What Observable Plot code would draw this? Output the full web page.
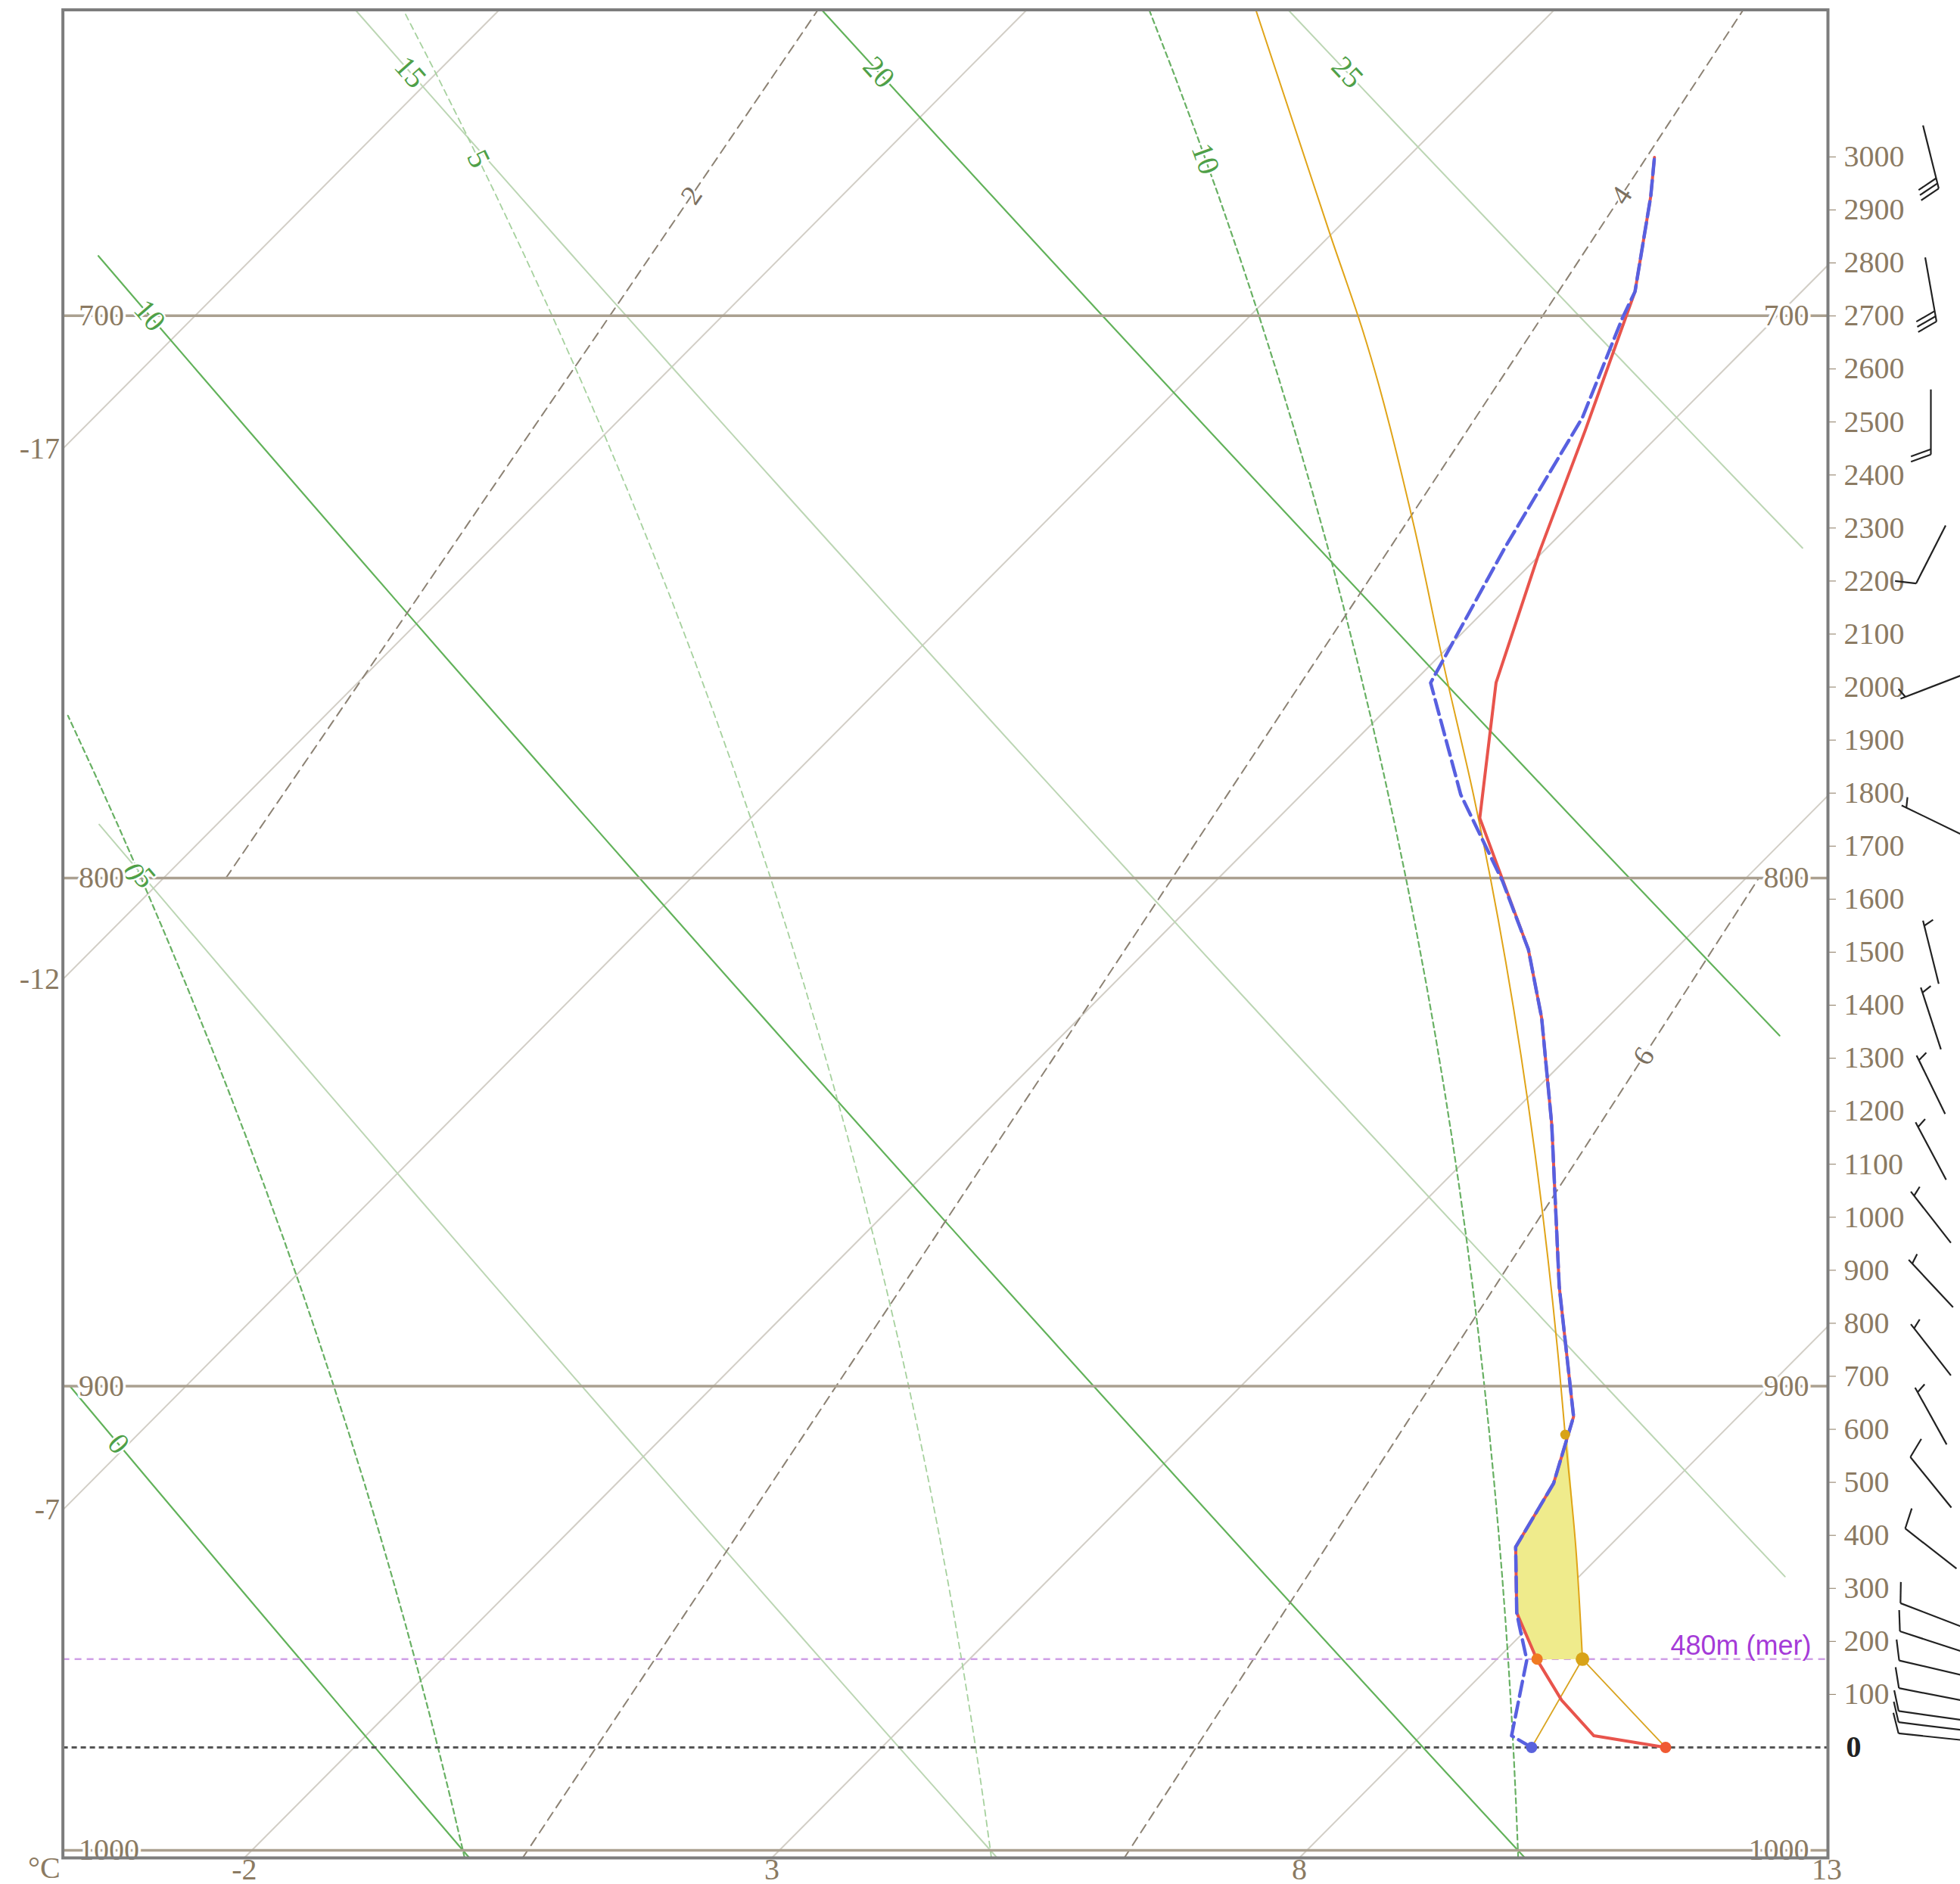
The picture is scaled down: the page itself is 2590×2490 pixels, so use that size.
<!DOCTYPE html>
<html>
<head>
<meta charset="utf-8">
<script src="https://cdn.jsdelivr.net/npm/d3@7"></script>
<script src="https://cdn.jsdelivr.net/npm/@observablehq/plot@0.6"></script>
<style>
  html, body { margin: 0; padding: 0; background: #ffffff; }
  svg { overflow: visible; display: block; }
</style>
</head>
<body>
<div id="chart"></div>
<script>
// ---------------- DATA ----------------
const pressureLevels = [700, 800, 900, 1000];               // hPa lines
const isotherms = [-22, -17, -12, -7, -2, 3, 8, 13];          // °C
const leftTempLabels = [-17, -12, -7];
const bottomTempLabels = [-2, 3, 8, 13];
const dryAdiabats = [0, 5, 10, 15, 20, 25];                   // θ °C
const dryLabelP = [912, 800, 700, 660, 660, 660];
const moistAdiabats = [0, 5, 10];                             // θw °C
const moistLabelP = [800, 674, 674];
const moistLabelShift = [[-10, -8], [0, 0], [0, 0]];
const mixingRatios = [2, 4, 6];                               // g/kg
const mixingLabelP = [680, 680, 834];
const altTicks = [100, 200, 300, 400, 500, 600, 700, 800, 900, 1000, 1100, 1200, 1300, 1400,
                  1500, 1600, 1700, 1800, 1900, 2000, 2100, 2200, 2300, 2400, 2500, 2600, 2700, 2800, 2900, 3000];

// temperature profile (height above ground m, °C)
const tempAlt = [0, 22, 89, 166, 254, 378, 498, 624, 869, 1175, 1376, 1505, 1753, 2008, 2254, 2483, 2746, 2926, 2999];
const tempC   = [10.43, 9.64, 9.00, 8.38, 7.75, 7.12, 6.88, 6.44, 5.08, 3.48, 2.38, 1.61, -0.09, -1.21, -2.03, -2.74, -3.58, -4.33, -4.66];
// dew point profile
const dewAlt = [0, 22, 165, 229, 254, 378, 498, 624, 869, 1175, 1376, 1505, 1634, 1797, 2008, 2263, 2508, 2696, 2746, 2926, 2999];
const dewC   = [9.16, 8.86, 8.29, 7.90, 7.75, 7.12, 6.88, 6.44, 5.08, 3.48, 2.38, 1.61, 0.72, -0.49, -1.83, -2.40, -2.89, -3.45, -3.58, -4.33, -4.66];
// parcel ascent above the condensation level
const parcelAlt = [166.5, 378, 590, 726, 1797, 2041, 2311, 2672, 2848, 3276];
const parcelC   = [8.81, 7.69, 6.53, 5.79, -0.37, -1.87, -3.51, -5.79, -6.97, -9.82];
// yellow area (temperature side up, parcel side down)
const capeAlt = [166, 254, 378, 498, 590, 378, 166.5];
const capeC   = [8.38, 7.75, 7.12, 6.88, 6.55, 7.69, 8.81];
const surfaceT = 10.43, surfaceTd = 9.16;
const lclAlt = 166.5, lclT = 8.81, lclTempT = 8.38;
const elAlt = 590, elT = 6.53;
const lclLabel = "480m (mer)";

// wind (height above ground m, direction of the barb tip °, speed kt)
const windAlt = [20, 40, 60, 100, 150, 200, 250, 375, 500, 625, 750, 875, 1000, 1125, 1250, 1375, 1500, 1750, 2000, 2250, 2500, 2750, 3000];
const windDir = [276, 277, 278, 281, 283, 288, 291, 308, 321, 331, 322, 317, 322, 332, 334, 342, 346, 296, 249, 207, 180, 170, 166];
const windSpd = [10, 10, 10, 10, 10, 10, 10, 10, 10, 5, 5, 5, 5, 5, 5, 5, 5, 5, 5, 10, 20, 30, 30];

// ---------------- chart geometry ----------------
const W = 2590, H = 2490;
const mL = 82.6, mR = 175, mT = 12.5, mB = 35;
const X0 = -3.72, X1 = 13.01, Y0 = -208.4, Y1 = 3277.4;
const PXC = (W - mR - mL) / (X1 - X0);     // px per °C
const PXM = (H - mB - mT) / (Y1 - Y0);     // px per m
const SKEW = 0.0049964;                    // °C per m of height (45° skew)

function zstd(p) { return 44330.8 * (1 - Math.pow(p / 1013.25, 0.190263)); }
function altOfP(p) { return (zstd(p) - 110.9) * 0.99772 - 194.1; }
function pOfAlt(a) { const z = (a + 194.1) / 0.99772 + 110.9; return 1013.25 * Math.pow(1 - z / 44330.8, 1 / 0.190263); }
function sx(T, alt) { return T + (alt - Y0) * SKEW; }

const pTop = pOfAlt(Y1), pBot = pOfAlt(Y0);

// thermodynamics
const Rd = 287.04, Cp = 1005.7, Lv = 2.501e6, EPS = 0.622, KAPPA = 0.2857;
function es(Tc) { return 6.112 * Math.exp(17.67 * Tc / (Tc + 243.5)); }
function dryT(th, p) { return (th + 273.15) * Math.pow(p / 1000, KAPPA) - 273.15; }
function moistLapse(p, T) {
  const e = es(T - 273.15);
  const rs = EPS * e / (p - e);
  return (Rd * T + Lv * rs) / (p * (Cp + Lv * Lv * rs * EPS / (Rd * T * T)));
}
function moistT(thw, p) {
  let T = thw + 273.15, pc = 1000;
  const n = Math.max(1, Math.ceil(Math.abs(p - 1000) / 2));
  const h = (p - 1000) / n;
  for (let i = 0; i < n; i++) {
    const k1 = moistLapse(pc, T);
    const k2 = moistLapse(pc + h / 2, T + h / 2 * k1);
    const k3 = moistLapse(pc + h / 2, T + h / 2 * k2);
    const k4 = moistLapse(pc + h, T + h * k3);
    T += h / 6 * (k1 + 2 * k2 + 2 * k3 + k4);
    pc += h;
  }
  return T - 273.15;
}
function mixTd(w, p) {
  const e = w * p / (622 + w);
  const l = Math.log(e / 6.112);
  return 243.5 * l / (17.67 - l);
}

const pFine = [pBot, ...d3.range(1000, 655, -10), pTop];
const pMix = [pBot, 1000, 950, 900, 850, 800, 750, 700, pTop];

function curve(fn, ps, key) {
  return ps.map(p => {
    const a = altOfP(p), x = sx(fn(p), a);
    return {x: (x >= X0 && x <= X1) ? x : NaN, y: a, z: key};
  });
}
function labelAt(fn, p, text, up) {
  const a = altOfP(p), x = sx(fn(p), a);
  const pa = up ? p + 5 : p - 5, pb = up ? p - 5 : p + 5;
  const xa = sx(fn(pa), altOfP(pa)) * PXC, ya = -altOfP(pa) * PXM;
  const xb = sx(fn(pb), altOfP(pb)) * PXC, yb = -altOfP(pb) * PXM;
  return {x, y: a, text, rotate: Math.atan2(yb - ya, xb - xa) * 180 / Math.PI};
}

const isoLines = isotherms.flatMap(t => [{x: sx(t, Y0), y: Y0, z: t}, {x: sx(t, Y1), y: Y1, z: t}]);
const dryMajor = dryAdiabats.filter(t => t % 10 === 0).flatMap(t => curve(p => dryT(t, p), pFine, t));
const dryMinor = dryAdiabats.filter(t => t % 10 !== 0).flatMap(t => curve(p => dryT(t, p), pFine, t));
const moistMajor = moistAdiabats.filter(t => t % 10 === 0).flatMap(t => curve(p => moistT(t, p), pFine, t));
const moistMinor = moistAdiabats.filter(t => t % 10 !== 0).flatMap(t => curve(p => moistT(t, p), pFine, t));
const mixLines = mixingRatios.flatMap(w => curve(p => mixTd(w, p), pMix, w));

const dryLabels = dryAdiabats.map((t, i) => labelAt(p => dryT(t, p), dryLabelP[i], String(t), false));
const moistLabels = moistAdiabats.map((t, i) => {
  const l = labelAt(p => moistT(t, p), moistLabelP[i], String(t), false);
  return {...l, x: l.x + moistLabelShift[i][0] / PXC, y: l.y - moistLabelShift[i][1] / PXM};
});
const mixLabels = mixingRatios.map((w, i) => labelAt(p => mixTd(w, p), mixingLabelP[i], String(w), true));

const tempPts = tempAlt.map((a, i) => ({x: sx(tempC[i], a), y: a}));
const dewPts = dewAlt.map((a, i) => ({x: sx(dewC[i], a), y: a}));
const parcelPts = parcelAlt.map((a, i) => ({x: sx(parcelC[i], a), y: a}));
const capePts = capeAlt.map((a, i) => ({x: sx(capeC[i], a), y: a}));

// wind barbs: staff centred at a fixed offset right of the frame
const BARB_DX = 136, HALF = 43, STEP = 7, FULL_LEN = 28, HALF_LEN = 14;
const barbSegs = [];
windAlt.forEach((alt, i) => {
  const cx = X1 + BARB_DX / PXC;
  const b = windDir[i] * Math.PI / 180, f = (windDir[i] + 70) * Math.PI / 180;
  const ux = Math.sin(b), uy = -Math.cos(b), fx = Math.sin(f), fy = -Math.cos(f);
  const P = (ox, oy) => [cx + ox / PXC, alt - oy / PXM];
  const [ax, ay] = P(-HALF * ux, -HALF * uy), [bx, by] = P(HALF * ux, HALF * uy);
  barbSegs.push({x1: ax, y1: ay, x2: bx, y2: by});
  const nFull = Math.floor(windSpd[i] / 10), hasHalf = windSpd[i] % 10 >= 5;
  for (let k = 0; k < nFull; k++) {
    const s = HALF - k * STEP;
    const [sx1, sy1] = P(s * ux, s * uy), [sx2, sy2] = P(s * ux + FULL_LEN * fx, s * uy + FULL_LEN * fy);
    barbSegs.push({x1: sx1, y1: sy1, x2: sx2, y2: sy2});
  }
  if (hasHalf) {
    const s = HALF - Math.max(nFull, 1) * STEP;
    const [sx1, sy1] = P(s * ux, s * uy), [sx2, sy2] = P(s * ux + HALF_LEN * fx, s * uy + HALF_LEN * fy);
    barbSegs.push({x1: sx1, y1: sy1, x2: sx2, y2: sy2});
  }
});

const txtCol = "#8b7a62";
const green = "#4fa048";

const chart = Plot.plot({
  width: W, height: H,
  marginLeft: mL, marginRight: mR, marginTop: mT, marginBottom: mB,
  style: {background: "white", fontFamily: "'Liberation Serif', 'DejaVu Serif', serif", fontSize: "40px", color: txtCol, overflow: "visible"},
  x: {domain: [X0, X1], axis: "bottom", ticks: bottomTempLabels, tickSize: 0, tickPadding: 0, tickFormat: d => String(d), label: null},
  y: {domain: [Y0, Y1], axis: "right", ticks: altTicks, tickSize: 10, tickPadding: 11, tickFormat: d => String(d), label: null},
  marks: [
    // background lines
    Plot.line(isoLines, {x: "x", y: "y", z: "z", stroke: "#d2cec6", strokeWidth: 2, clip: true}),
    Plot.line(dryMinor, {x: "x", y: "y", z: "z", stroke: "#bcd6b4", strokeWidth: 2, clip: true}),
    Plot.line(dryMajor, {x: "x", y: "y", z: "z", stroke: "#62b25a", strokeWidth: 2.2, clip: true}),
    Plot.line(moistMinor, {x: "x", y: "y", z: "z", stroke: "#a6d19e", strokeWidth: 1.8, strokeDasharray: "8,6", clip: true}),
    Plot.line(moistMajor, {x: "x", y: "y", z: "z", stroke: "#68b063", strokeWidth: 2.2, strokeDasharray: "7,5", clip: true}),
    Plot.line(mixLines, {x: "x", y: "y", z: "z", stroke: "#8c8274", strokeWidth: 2, strokeDasharray: "12,8", clip: true}),
    Plot.ruleY(pressureLevels.map(altOfP), {stroke: "#aaa090", strokeWidth: 3.5}),
    // reference levels
    Plot.ruleY([0], {stroke: "#555555", strokeWidth: 3, strokeDasharray: "7,5"}),
    Plot.ruleY([lclAlt], {stroke: "#cf9fe6", strokeWidth: 2.5, strokeDasharray: "9,7"}),
    // parcel area & lines
    Plot.line(capePts, {x: "x", y: "y", fill: "#efeb8c", stroke: "none"}),
    Plot.line(parcelPts, {x: "x", y: "y", stroke: "#e0a418", strokeWidth: 2, curve: "monotone-y", clip: true}),
    Plot.link([{x1: sx(surfaceT, 0), y1: 0, x2: sx(lclT, lclAlt), y2: lclAlt},
               {x1: sx(surfaceTd, 0), y1: 0, x2: sx(lclT, lclAlt), y2: lclAlt}],
              {x1: "x1", y1: "y1", x2: "x2", y2: "y2", stroke: "#d9a420", strokeWidth: 1.8}),
    // sounding
    Plot.line(tempPts, {x: "x", y: "y", stroke: "#e8544c", strokeWidth: 4}),
    Plot.line(dewPts, {x: "x", y: "y", stroke: "#5860e0", strokeWidth: 4.5, strokeDasharray: "20,8"}),
    Plot.dot([{x: sx(surfaceT, 0), y: 0}], {x: "x", y: "y", r: 7.5, fill: "#f05a32"}),
    Plot.dot([{x: sx(surfaceTd, 0), y: 0}], {x: "x", y: "y", r: 7.5, fill: "#5a62dc"}),
    Plot.dot([{x: sx(lclTempT, lclAlt), y: lclAlt}], {x: "x", y: "y", r: 7.5, fill: "#f07a22"}),
    Plot.dot([{x: sx(lclT, lclAlt), y: lclAlt}], {x: "x", y: "y", r: 9, fill: "#d8a318"}),
    Plot.dot([{x: sx(elT, elAlt), y: elAlt}], {x: "x", y: "y", r: 6.5, fill: "#d8a318"}),
    // line labels
    Plot.text(dryLabels, {x: "x", y: "y", text: "text", rotate: "rotate", fill: green, fontSize: 40, stroke: "white", strokeWidth: 5, paintOrder: "stroke"}),
    Plot.text(moistLabels, {x: "x", y: "y", text: "text", rotate: "rotate", fill: green, fontSize: 40, stroke: "white", strokeWidth: 5, paintOrder: "stroke"}),
    Plot.text(mixLabels, {x: "x", y: "y", text: "text", rotate: "rotate", fill: "#7c705f", fontSize: 38, stroke: "white", strokeWidth: 5, paintOrder: "stroke"}),
    // pressure labels
    Plot.text(pressureLevels, {y: d => altOfP(d), text: d => String(d), frameAnchor: "left", dx: 21, textAnchor: "start", fill: txtCol, stroke: "white", strokeWidth: 7, paintOrder: "stroke"}),
    Plot.text(pressureLevels, {y: d => altOfP(d), text: d => String(d), frameAnchor: "right", dx: -25, textAnchor: "end", fill: txtCol, stroke: "white", strokeWidth: 7, paintOrder: "stroke"}),
    // temperature labels on left border
    Plot.text(leftTempLabels, {y: d => Y0 + (X0 - d) / SKEW, text: d => String(d), frameAnchor: "left", dx: -4, textAnchor: "end", fill: txtCol}),
    Plot.text(["°C"], {frameAnchor: "bottom-left", dx: -46, dy: 26, fill: txtCol}),
    // ground label
    Plot.text([0], {y: d => d, text: d => String(d), frameAnchor: "right", dx: 24, textAnchor: "start", fill: "#222222", fontWeight: "bold"}),
    Plot.text([lclLabel], {y: () => lclAlt, frameAnchor: "right", dx: -22, dy: -17, textAnchor: "end", fill: "#a53bd8", fontSize: 36, fontFamily: "'Liberation Sans', Arial, sans-serif"}),
    // wind barbs
    Plot.link(barbSegs, {x1: "x1", y1: "y1", x2: "x2", y2: "y2", stroke: "#222222", strokeWidth: 2.2}),
    Plot.frame({stroke: "#7d7d7d", strokeWidth: 4})
  ]
});
document.getElementById("chart").appendChild(chart);
</script>
</body>
</html>
